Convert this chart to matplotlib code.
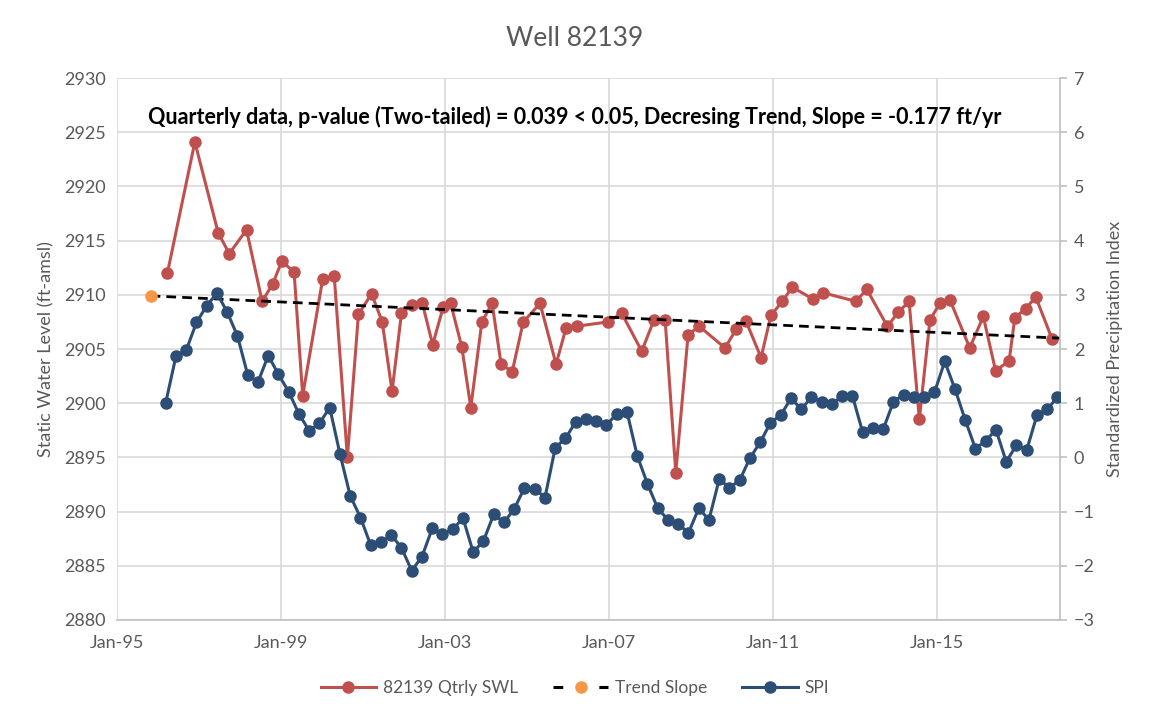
import numpy as np
import matplotlib
matplotlib.use("Agg")
import matplotlib.pyplot as plt
from matplotlib.lines import Line2D

plt.rcParams['font.family'] = ['Lato', 'DejaVu Sans']

# --- datos ---
# SWL trimestral (fecha en anos decimales, nivel en ft-amsl)
swl_years = [1996.23, 1996.90, 1997.47, 1997.74, 1998.16, 1998.54, 1998.80, 1999.02,
             1999.32, 1999.53, 2000.02, 2000.30, 2000.62, 2000.89, 2001.21, 2001.47,
             2001.71, 2001.94, 2002.20, 2002.45, 2002.70, 2002.96, 2003.14, 2003.41,
             2003.63, 2003.90, 2004.15, 2004.37, 2004.64, 2004.91, 2005.32, 2005.71,
             2005.95, 2006.21, 2006.98, 2007.31, 2007.80, 2008.10, 2008.37, 2008.63,
             2008.93, 2009.20, 2009.83, 2010.10, 2010.34, 2010.71, 2010.95, 2011.23,
             2011.47, 2011.98, 2012.21, 2013.02, 2013.29, 2013.79, 2014.06, 2014.32,
             2014.57, 2014.83, 2015.07, 2015.32, 2015.80, 2016.13, 2016.43, 2016.76,
             2016.90, 2017.16, 2017.41, 2017.81]
swl_vals = [2912.0, 2924.1, 2915.7, 2913.8, 2916.0, 2909.4, 2911.0, 2913.1,
            2912.1, 2900.7, 2911.5, 2911.7, 2895.0, 2908.2, 2910.1, 2907.5,
            2901.1, 2908.3, 2909.1, 2909.2, 2905.4, 2908.9, 2909.2, 2905.2,
            2899.6, 2907.5, 2909.2, 2903.6, 2902.9, 2907.5, 2909.2, 2903.6,
            2906.9, 2907.1, 2907.5, 2908.3, 2904.8, 2907.7, 2907.7, 2893.6,
            2906.3, 2907.1, 2905.1, 2906.8, 2907.6, 2904.2, 2908.1, 2909.4,
            2910.7, 2909.6, 2910.2, 2909.4, 2910.5, 2907.1, 2908.4, 2909.4,
            2898.5, 2907.7, 2909.2, 2909.5, 2905.1, 2908.0, 2903.0, 2903.9,
            2907.9, 2908.7, 2909.8, 2905.9]

# linea de tendencia (inicio y fin)
trend_years = [1995.82, 2018.0]
trend_vals = [2909.9, 2906.0]

# SPI trimestral desde Mar-1996
spi_start = 1996.19
spi_vals = [1.01, 1.87, 1.98, 2.49, 2.80, 3.03, 2.68, 2.24, 1.52, 1.39, 1.88, 1.53, 1.21,
            0.80, 0.49, 0.63, 0.92, 0.06, -0.71, -1.11, -1.62, -1.57, -1.43, -1.67, -2.09,
            -1.83, -1.31, -1.41,
            -1.33, -1.12, -1.75, -1.54, -1.05, -1.20, -0.95, -0.56, -0.58, -0.74, 0.18,
            0.35, 0.66, 0.71, 0.67, 0.60,
            0.80, 0.84, 0.03, -0.49, -0.94, -1.15, -1.23, -1.39, -0.94, -1.15, -0.40,
            -0.56, -0.42, -0.01, 0.28, 0.64, 0.78,
            1.09, 0.89, 1.11, 1.03, 0.99, 1.13, 1.13, 0.46, 0.54, 0.52, 1.03, 1.16,
            1.12, 1.11, 1.20, 1.77,
            1.26, 0.69, 0.16, 0.31, 0.51, -0.08, 0.23, 0.14, 0.78, 0.89, 1.11]
spi_years = spi_start + 0.25 * np.arange(len(spi_vals))

x_ticks = [1995, 1999, 2003, 2007, 2011, 2015]
x_labels = ["Jan-95", "Jan-99", "Jan-03", "Jan-07", "Jan-11", "Jan-15"]

RED = "#C0504D"
BLUE = "#2C4D75"
ORANGE = "#F79646"
GREY = "#595959"
GRID = "#D9D9D9"

fig = plt.figure(figsize=(11.5, 7.19), dpi=100)
ax1 = fig.add_axes([0.1017, 0.1377, 0.82, 0.7538])
ax2 = ax1.twinx()

ax1.plot(swl_years, swl_vals, color=RED, lw=2.2, marker="o", ms=8, zorder=3)
ax1.plot(trend_years, trend_vals, color="black", lw=2.0, ls=(0, (3.5, 2.2)),
         marker="o", ms=8, mfc=ORANGE, mec=ORANGE, markevery=[0], zorder=4)
ax2.plot(spi_years, spi_vals, color=BLUE, lw=2.2, marker="o", ms=8, zorder=3)

ax1.set_xlim(1995, 2018.0)
ax1.set_ylim(2880, 2930)
ax2.set_ylim(-3, 7)
ax1.set_yticks(np.arange(2880, 2931, 5))
ax2.set_yticks(np.arange(-3, 8, 1))
ax1.set_xticks(x_ticks)
ax1.set_xticklabels(x_labels)

ax1.grid(True, color=GRID, lw=1.2)
ax1.set_axisbelow(True)

for s in ["top", "left", "right"]:
    ax1.spines[s].set_visible(False)
for s in ["top", "left", "bottom"]:
    ax2.spines[s].set_visible(False)
ax1.spines["bottom"].set_color("#BFBFBF")
ax1.spines["bottom"].set_linewidth(1.2)
ax2.spines["right"].set_color("#BFBFBF")
ax2.spines["right"].set_linewidth(1.2)

ax1.tick_params(axis="both", length=0, labelsize=13, labelcolor=GREY, pad=8)
ax1.tick_params(axis="x", pad=11)
ax2.tick_params(axis="y", length=5, color="#BFBFBF", width=1.2, labelsize=13,
                labelcolor=GREY, pad=5)

ax1.set_ylabel("Static Water Level (ft-amsl)", fontsize=13, color=GREY, labelpad=7)
ax2.set_ylabel("Standardized Precipitation Index", fontsize=13, color=GREY, labelpad=9)

fig.text(0.5, 0.947, "Well 82139", ha="center", va="center", fontsize=19, color=GREY)
ax1.text(0.033, 0.928,
         "Quarterly data, p-value (Two-tailed) = 0.039 < 0.05, Decresing Trend, Slope = -0.177 ft/yr",
         transform=ax1.transAxes, ha="left", va="center", fontsize=15.5,
         fontweight="bold", color="black")

handles = [
    Line2D([], [], color=RED, lw=2.2, marker="o", ms=8),
    Line2D([], [], color="black", lw=2.2, ls=(0, (3.2, 11.8)), marker="o", ms=8,
           mfc=ORANGE, mec=ORANGE),
    Line2D([], [], color=BLUE, lw=2.2, marker="o", ms=8),
]
labels = ["82139 Qtrly SWL", "Trend Slope", "SPI"]
fig.legend(handles, labels, loc="center", bbox_to_anchor=(0.5, 0.043), ncol=3,
           frameon=False, fontsize=12.5, labelcolor=GREY, handlelength=3.2,
           columnspacing=2.0, handletextpad=0.4)

fig.savefig("out.png", dpi=100)
